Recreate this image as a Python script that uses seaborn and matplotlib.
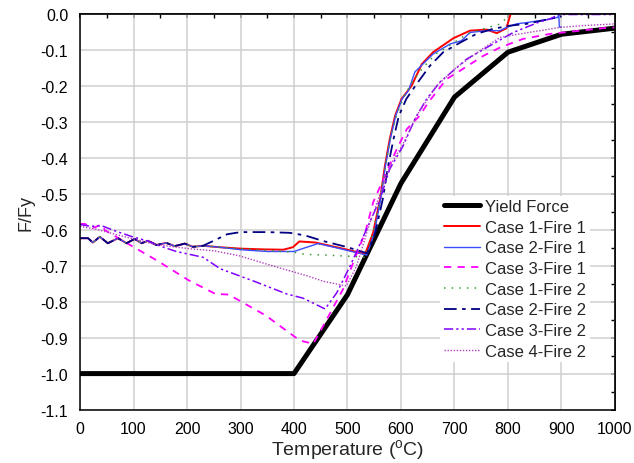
import matplotlib
matplotlib.use("Agg")
import matplotlib.pyplot as plt
from matplotlib.ticker import MultipleLocator
import pandas as pd
import seaborn as sns

sns.set_theme(style="white")
plt.rcParams["font.family"] = ["Liberation Sans", "DejaVu Sans"]
plt.rcParams["axes.unicode_minus"] = False
plt.rcParams["mathtext.fontset"] = "custom"
plt.rcParams["mathtext.rm"] = "Liberation Sans"

# ---- data ----
# common wavy start shared by the Fire-1 cases and Case 1/2 of Fire 2
temp_wave = [0, 15, 24, 37, 52, 71, 87, 102, 115, 127, 143, 161, 177, 196, 211, 230]
f_wave = [-0.623, -0.623, -0.635, -0.619, -0.637, -0.623, -0.637, -0.625,
          -0.637, -0.630, -0.642, -0.636, -0.645, -0.638, -0.647, -0.644]

yield_t = [0, 400, 500, 600, 700, 800, 900, 1000]
yield_f = [-1.0, -1.0, -0.78, -0.47, -0.23, -0.105, -0.055, -0.038]

c1f1_t = temp_wave + [260, 300, 340, 380, 398, 410, 440, 470, 500, 533, 548, 561, 570,
                      579, 589, 601, 613, 620, 639, 660, 698, 729, 760, 779, 797, 804, 808]
c1f1_f = f_wave + [-0.648, -0.652, -0.654, -0.655, -0.648, -0.632, -0.635, -0.645, -0.655,
                   -0.667, -0.607, -0.514, -0.421, -0.347, -0.282, -0.235, -0.212, -0.198,
                   -0.138, -0.105, -0.066, -0.045, -0.042, -0.052, -0.0385, -0.003, 0.015]

c2f1_t = temp_wave + [260, 300, 350, 400, 420, 445, 480, 536, 550, 562, 571, 580, 590, 602,
                      614, 626, 660, 692, 713, 729, 760, 785, 797, 816, 837, 860, 879, 893,
                      895, 896, 900]
c2f1_f = f_wave + [-0.648, -0.655, -0.66, -0.66, -0.65, -0.638, -0.65, -0.67, -0.61, -0.514,
                   -0.421, -0.347, -0.282, -0.235, -0.212, -0.16, -0.11, -0.082, -0.073,
                   -0.05, -0.045, -0.045, -0.036, -0.026, -0.022, -0.017, -0.0125, -0.008,
                   0.0, -0.035, -0.035]

c3f1_t = [0, 9, 22, 28, 34, 43, 46, 96, 124, 146, 203, 253, 278, 347, 411, 436, 455, 492,
          511, 533, 548, 570, 592, 611, 635, 651, 685, 710, 754, 785, 828, 879, 935, 978, 1000]
c3f1_f = [-0.583, -0.583, -0.593, -0.593, -0.588, -0.588, -0.6, -0.644, -0.668, -0.687,
          -0.74, -0.778, -0.78, -0.838, -0.908, -0.917, -0.866, -0.764, -0.69, -0.607,
          -0.523, -0.449, -0.375, -0.319, -0.282, -0.245, -0.18, -0.157, -0.115, -0.092,
          -0.068, -0.054, -0.045, -0.038, -0.036]

c1f2_t = temp_wave + [300, 350, 400, 420, 460, 500, 533, 548, 561, 571, 580, 592, 605,
                      620, 640, 665, 692, 723, 760, 785, 797, 802]
c1f2_f = f_wave + [-0.652, -0.657, -0.662, -0.668, -0.67, -0.673, -0.676, -0.607, -0.514,
                   -0.42, -0.347, -0.28, -0.23, -0.19, -0.15, -0.11, -0.085, -0.055,
                   -0.037, -0.027, -0.01, 0.005]

c2f2_t = temp_wave + [250, 275, 300, 350, 392, 420, 455, 500, 537, 552, 566, 576, 586, 596,
                      610, 629, 654, 679, 711, 741, 772, 804, 835, 870, 900]
c2f2_f = f_wave + [-0.63, -0.612, -0.606, -0.606, -0.608, -0.615, -0.631, -0.648, -0.665,
                   -0.607, -0.514, -0.421, -0.347, -0.282, -0.235, -0.194, -0.143, -0.105,
                   -0.078, -0.054, -0.04, -0.031, -0.026, -0.015, -0.005]

c3f2_t = [0, 20, 40, 70, 100, 125, 150, 180, 230, 262, 324, 386, 417, 458, 480, 505, 536,
          561, 579, 604, 626, 648, 673, 723, 772, 810, 835, 860, 879, 895, 1000]
c3f2_f = [-0.585, -0.59, -0.588, -0.605, -0.62, -0.63, -0.645, -0.66, -0.676, -0.708,
          -0.742, -0.778, -0.79, -0.82, -0.775, -0.70, -0.597, -0.514, -0.43, -0.366,
          -0.291, -0.235, -0.188, -0.124, -0.082, -0.05, -0.035, -0.02, -0.012, 0.0, 0.0]

c4f2_t = [0, 30, 60, 100, 140, 180, 210, 250, 298, 360, 423, 455, 498, 517, 542, 561, 580,
          604, 630, 667, 704, 754, 785, 822, 860, 897, 940, 1000]
c4f2_f = [-0.59, -0.598, -0.61, -0.625, -0.64, -0.648, -0.653, -0.658, -0.672, -0.70,
          -0.727, -0.743, -0.756, -0.70, -0.579, -0.5, -0.42, -0.36, -0.28, -0.198, -0.147,
          -0.094, -0.064, -0.054, -0.045, -0.036, -0.031, -0.026]

x_ticks = [0, 100, 200, 300, 400, 500, 600, 700, 800, 900, 1000]
y_ticks = [-1.1, -1.0, -0.9, -0.8, -0.7, -0.6, -0.5, -0.4, -0.3, -0.2, -0.1, 0.0]
y_tick_labels = ["-1.1", "-1.0", "-0.9", "-0.8", "-0.7", "-0.6", "-0.5", "-0.4",
                 "-0.3", "-0.2", "-0.1", "0.0"]

# ---- figure ----
fig = plt.figure(figsize=(6.34, 4.64), dpi=100)
ax = fig.add_axes([0.1262, 0.1153, 0.8438, 0.8513])

series = [
    ("Yield Force", yield_t, yield_f, dict(color="black", lw=3.6, ls="-")),
    ("Case 1-Fire 1", c1f1_t, c1f1_f, dict(color="#ff0000", lw=1.4, ls="-")),
    ("Case 2-Fire 1", c2f1_t, c2f1_f, dict(color="#3a4dff", lw=1.0, ls="-")),
    ("Case 3-Fire 1", c3f1_t, c3f1_f, dict(color="#ff00ff", lw=1.3, ls=(0, (4, 3.5)))),
    ("Case 1-Fire 2", c1f2_t, c1f2_f, dict(color="#3c9a3c", lw=1.1, ls=(0, (1, 4)))),
    ("Case 2-Fire 2", c2f2_t, c2f2_f, dict(color="#000080", lw=1.3, ls=(0, (7, 3, 2, 3)))),
    ("Case 3-Fire 2", c3f2_t, c3f2_f, dict(color="#8000ff", lw=1.1,
                                           ls=(0, (6, 2, 1.5, 2, 1.5, 2)))),
    ("Case 4-Fire 2", c4f2_t, c4f2_f, dict(color="#b040c0", lw=1.0, ls=(0, (1, 1.2)))),
]

for name, t, f, style in series:
    df = pd.DataFrame({"Temperature": t, "F/Fy": f})
    sns.lineplot(data=df, x="Temperature", y="F/Fy", ax=ax, sort=False,
                 estimator=None, label=name, color=style["color"],
                 linewidth=style["lw"], linestyle=style["ls"])

ax.set_xlim(0, 1000)
ax.set_ylim(-1.1, 0.0)
ax.set_xticks(x_ticks)
ax.set_yticks(y_ticks)
ax.set_yticklabels(y_tick_labels)
ax.xaxis.set_minor_locator(MultipleLocator(50))
ax.yaxis.set_minor_locator(MultipleLocator(0.05))
ax.grid(True, which="major", color="#cfcfcf", lw=1.1)
ax.set_axisbelow(True)

ax.tick_params(which="major", direction="out", length=5, width=1, colors="black",
               labelsize=11.5)
ax.tick_params(which="minor", direction="out", length=3, width=1, colors="black")
for s in ax.spines.values():
    s.set_color("black")
    s.set_linewidth(1.1)

# mirrored ticks on top and right, pointing in
top = ax.secondary_xaxis("top")
top.set_xticks(x_ticks)
top.xaxis.set_minor_locator(MultipleLocator(50))
top.tick_params(which="both", direction="in", labeltop=False, length=3, colors="black")
right = ax.secondary_yaxis("right")
right.set_yticks(y_ticks)
right.yaxis.set_minor_locator(MultipleLocator(0.05))
right.tick_params(which="both", direction="in", labelright=False, length=3, colors="black")

ax.set_xlabel("Temperature ($^{\\mathregular{o}}$C)", fontsize=14, labelpad=1)
ax.set_ylabel("F/Fy", fontsize=13, labelpad=4)

leg = ax.legend(loc="lower right", bbox_to_anchor=(0.953, 0.12), fontsize=12,
                frameon=True, facecolor="white", edgecolor="none", framealpha=1,
                fancybox=False, handlelength=2.2, handletextpad=0.3,
                labelspacing=0.34, borderpad=0.2, borderaxespad=0)

fig.savefig("out.png", dpi=100, facecolor="white")
